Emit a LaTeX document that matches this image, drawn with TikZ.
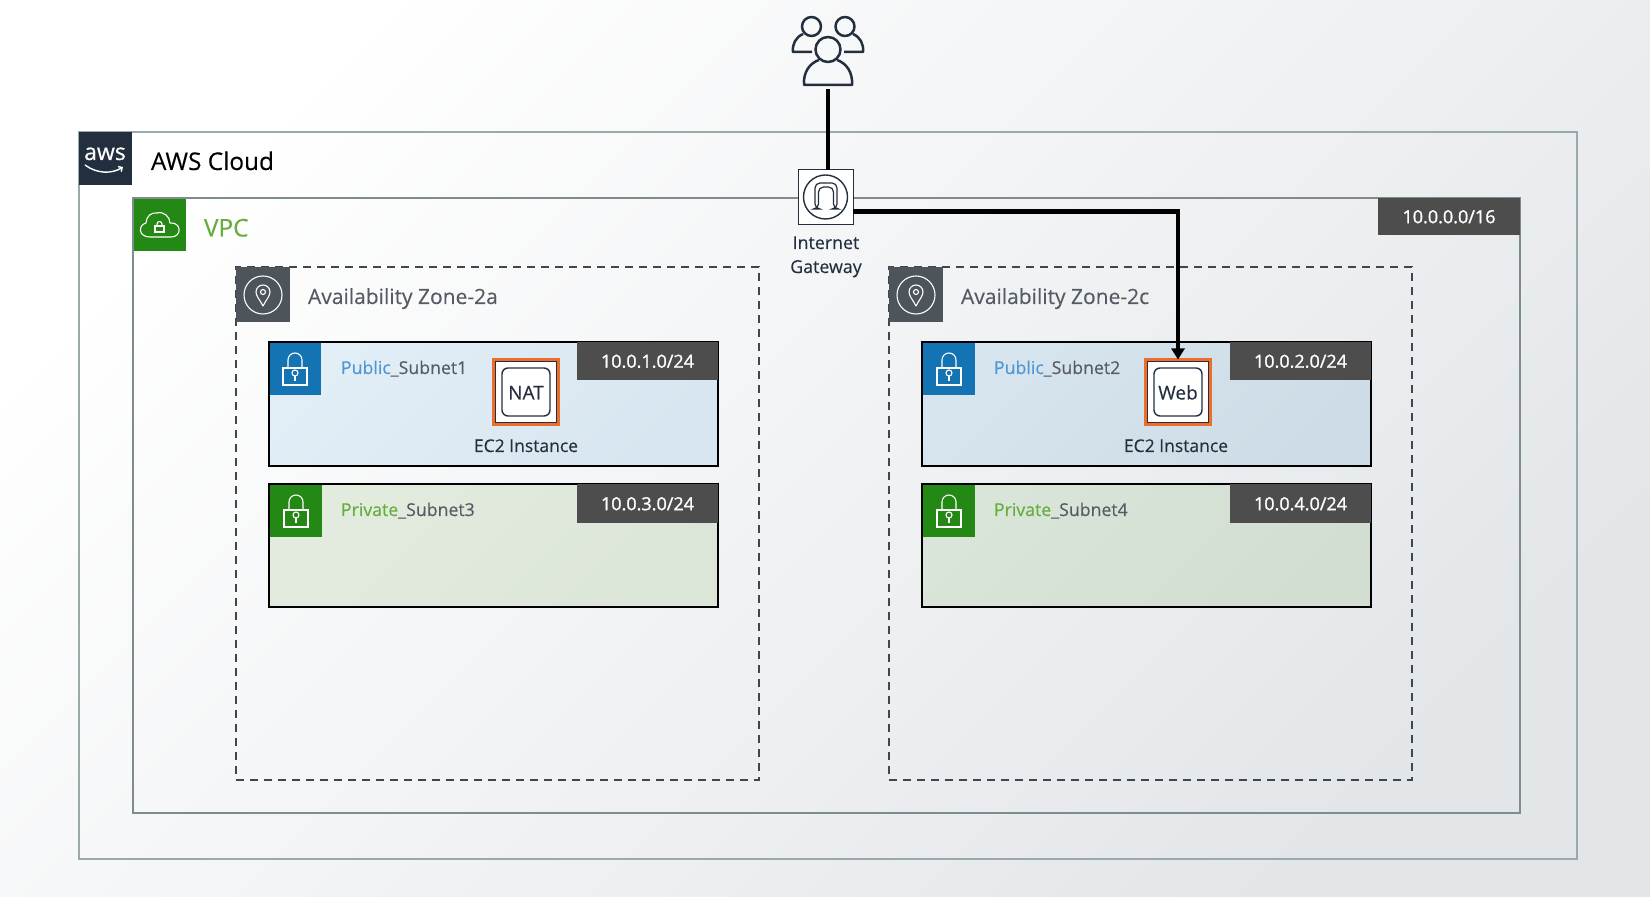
\documentclass[tikz,border=0pt]{standalone}
\usepackage{fontspec}
\setmainfont[FakeBold=0.2]{Open Sans}
\usetikzlibrary{arrows.meta}
\definecolor{navy}{HTML}{232F3E}
\definecolor{cloudline}{HTML}{9AA9A9}
\definecolor{vpcline}{HTML}{7D8C8C}
\definecolor{vpcgreen}{HTML}{248814}
\definecolor{azgrey}{HTML}{4D545C}
\definecolor{azdash}{HTML}{3F4650}
\definecolor{txtgrey}{HTML}{545B64}
\definecolor{pubblue}{HTML}{1473B3}
\definecolor{pubtxt}{HTML}{5096D6}
\definecolor{privtxt}{HTML}{65AD3D}
\definecolor{tagfill}{HTML}{4D4D4D}
\definecolor{ecorange}{HTML}{EC6E2A}
\definecolor{bgend}{HTML}{E3E6E9}
\definecolor{pubA}{HTML}{E2EEF6}
\definecolor{pubB}{HTML}{D8E6F1}
\definecolor{pubC}{HTML}{D7E5EE}
\definecolor{pubD}{HTML}{CEDCE7}
\definecolor{priA}{HTML}{E3EBDE}
\definecolor{priB}{HTML}{DCE6D8}
\definecolor{priC}{HTML}{DAE5D9}
\definecolor{priD}{HTML}{D2DED1}
\tikzset{
  x=0.5pt,y=-0.5pt,
  plain/.style={inner sep=0pt,outer sep=0pt},
  cloudbox/.style={plain,draw=cloudline,line width=1pt},
  vpcbox/.style={plain,draw=vpcline,line width=1pt},
  azbox/.style={plain,draw=azdash,line width=0.7pt,dash pattern=on 4pt off 3pt},
  subbox/.style={plain,draw=black,line width=1pt},
  tagbox/.style={plain,fill=tagfill,text=white,text height=6.7pt,text depth=0pt,font=\fontsize{9}{11}\selectfont\addfontfeatures{FakeBold=1.2}},
  iconline/.style={draw=white,line width=0.55pt},
  lbl/.style={inner sep=0pt,outer sep=0pt,anchor=base west},
  lblc/.style={inner sep=0pt,outer sep=0pt,anchor=base},
  conn/.style={draw=black,line width=2.1pt},
  navyline/.style={draw=navy,line width=0.7pt},
  sublabel/.style={lbl,text=txtgrey,font=\fontsize{8.85}{11}\selectfont},
  eclabel/.style={lblc,text=navy,font=\fontsize{8.75}{11}\selectfont},
}
% style, name, x1, y1, x2, y2, text
\newcommand{\rectnode}[7]{%
  \node[#1,anchor=north west,minimum width={(#5-#3)*0.5pt},minimum height={(#6-#4)*0.5pt}] (#2) at (#3,#4) {#7};}
\newcommand{\lockmark}[2]{%
  \begin{scope}[shift={(#1,#2)}]
    \draw[iconline] (-12,-9) rectangle (12,8);
    \draw[iconline] (-7,-9) -- (-7,-17) arc[start angle=180,end angle=360,radius=7] -- (7,-9);
    \draw[iconline] (0,-4) circle[radius=3];
    \draw[iconline] (0,-1) -- (0,4);
  \end{scope}}
\newcommand{\pinmark}[2]{%
  \begin{scope}[shift={(#1,#2)}]
    \draw[iconline] (0,0) circle[radius=19];
    \draw[iconline,line join=round] (0,11) .. controls (-3,5) and (-7,1) .. (-7,-3)
      arc[start angle=180,end angle=360,radius=7] .. controls (7,1) and (3,5) .. (0,11) -- cycle;
    \draw[iconline] (0,-3) circle[radius=2.5];
  \end{scope}}
\newcommand{\ecbox}[4]{%
  % name, x1, y1, text
  \begin{scope}[shift={(#2,#3)}]
    \node[plain,anchor=north west,fill=white,draw=ecorange,line width=1.5pt,minimum width=32.5pt,minimum height=32.5pt] (#1) at (1.5,1.5) {};
    \draw[navy,line width=0.5pt] (3.5,3.5) rectangle (64.5,64.5);
    \draw[navyline,rounded corners=3pt] (10,10) rectangle (58,58);
    \node[lblc,text=navy,font=\fontsize{9.5}{11}\selectfont] (#1txt) at (34,41.5) {#4};
  \end{scope}}
\begin{document}
\begin{tikzpicture}
\useasboundingbox (0,0) rectangle (1650,897);
\rectnode{plain,top color=white,bottom color=bgend,shading angle=45}{bg}{0}{0}{1650}{897}{}
% cloud
\rectnode{cloudbox}{cloud}{79}{132}{1577}{859}{}
\rectnode{plain,fill=navy}{awsicon}{79}{132}{132}{185}{}
\node[lblc,text=white,font=\fontsize{11.5}{12}\selectfont\addfontfeatures{FakeBold=0.5}] (awstxt) at (105,160) {aws};
\draw[white,line width=0.7pt,-{Straight Barb[length=1.5pt,width=3pt]}] (85,165) .. controls (97,174) and (112,174) .. (123,167);
\node[lbl,text=black,font=\fontsize{12.2}{14}\selectfont] (cloudtxt) at (151,170) {AWS Cloud};
% vpc
\rectnode{vpcbox}{vpc}{133}{198}{1520}{813}{}
\rectnode{plain,fill=vpcgreen}{vpcicon}{134}{199}{186}{251}{}
\draw[iconline,line join=round] (150,237) .. controls (138,237) and (138,225) .. (146,223)
  .. controls (146,216) and (152,212) .. (157,213)
  .. controls (164,211) and (170,217) .. (170,223)
  .. controls (182,222) and (182,237) .. (171,237) -- cycle;
\draw[iconline] (155,226) rectangle (164,232);
\draw[iconline] (157,226) -- (157,224) arc[start angle=180,end angle=360,radius=2.5] -- (162,226);
\node[lbl,text=privtxt,font=\fontsize{12.2}{14}\selectfont] (vpctxt) at (204,236.5) {VPC};
\rectnode{tagbox}{vpctag}{1378}{198}{1520}{235}{10.0.0.0/16}
% az a
\rectnode{azbox}{aza}{236}{267}{759}{780}{}
\rectnode{plain,fill=azgrey}{azaicon}{236}{267}{290}{322}{}
\pinmark{263}{295}
\node[lbl,text=txtgrey,font=\fontsize{10.5}{12}\selectfont] (azatxt) at (308,304) {Availability Zone-2a};
% az c
\rectnode{azbox}{azc}{889}{267}{1412}{780}{}
\rectnode{plain,fill=azgrey}{azcicon}{889}{267}{943}{322}{}
\pinmark{916}{295}
\node[lbl,text=txtgrey,font=\fontsize{10.5}{12}\selectfont] (azctxt) at (961,304) {Availability Zone-2c};
% subnet 1
\rectnode{subbox,top color=pubA,bottom color=pubB,shading angle=45}{sub1}{269}{342}{718}{466}{}
\rectnode{plain,fill=pubblue}{sub1icon}{270}{343}{321}{395}{}
\lockmark{295}{377}
\node[sublabel] (sub1txt) at (341,374) {\textcolor{pubtxt}{Public}\_Subnet1};
\rectnode{tagbox}{sub1tag}{577}{342}{718}{380}{10.0.1.0/24}
\ecbox{nat}{492}{358}{NAT}
\node[eclabel] (nattxt2) at (526,452) {EC2 Instance};
% subnet 3
\rectnode{subbox,top color=priA,bottom color=priB,shading angle=45}{sub3}{269}{484}{718}{607}{}
\rectnode{plain,fill=vpcgreen}{sub3icon}{270}{485}{322}{537}{}
\lockmark{296}{519}
\node[sublabel] (sub3txt) at (341,516) {\textcolor{privtxt}{Private}\_Subnet3};
\rectnode{tagbox}{sub3tag}{577}{484}{718}{523}{10.0.3.0/24}
% subnet 2
\rectnode{subbox,top color=pubC,bottom color=pubD,shading angle=45}{sub2}{922}{342}{1371}{466}{}
\rectnode{plain,fill=pubblue}{sub2icon}{923}{343}{975}{395}{}
\lockmark{949}{377}
\node[sublabel] (sub2txt) at (994,374) {\textcolor{pubtxt}{Public}\_Subnet2};
\rectnode{tagbox}{sub2tag}{1230}{342}{1371}{380}{10.0.2.0/24}
\ecbox{web}{1144}{358}{Web}
\node[eclabel] (webtxt2) at (1176,452) {EC2 Instance};
% subnet 4
\rectnode{subbox,top color=priC,bottom color=priD,shading angle=45}{sub4}{922}{484}{1371}{607}{}
\rectnode{plain,fill=vpcgreen}{sub4icon}{923}{485}{975}{537}{}
\lockmark{949}{519}
\node[sublabel] (sub4txt) at (994,516) {\textcolor{privtxt}{Private}\_Subnet4};
\rectnode{tagbox}{sub4tag}{1230}{484}{1371}{523}{10.0.4.0/24}
% internet gateway
\rectnode{plain,fill=white,draw=navy,line width=0.5pt}{igw}{798}{170}{853}{225}{}
\draw[navyline] (825.5,197) circle[radius=22];
\draw[navy,line width=0.6pt,rounded corners=2.5pt] (815,209) -- (815,183) -- (837,183) -- (837,209) -- (833.5,209) -- (833.5,187) -- (818.5,187) -- (818.5,209) -- cycle;
\node[lblc,text=navy,font=\fontsize{8.9}{11}\selectfont] (igwt1) at (826,249) {Internet};
\node[lblc,text=navy,font=\fontsize{8.9}{11}\selectfont] (igwt2) at (826,273) {Gateway};
% users
\coordinate (users) at (828,89);
\begin{scope}[line join=round]
  \draw[navy,line width=1.25pt] (811.5,26.5) circle[radius=9.5];
  \draw[navy,line width=1.25pt] (845,26.5) circle[radius=9.5];
  \draw[navy,line width=1.25pt] (828,49.5) circle[radius=12.5];
  \draw[navy,line width=1.25pt] (812,52) -- (793,52) .. controls (792,44) and (796,37) .. (803,34);
  \draw[navy,line width=1.25pt] (844,52) -- (863,52) .. controls (864,44) and (860,37) .. (853,34);
  \draw[navy,line width=1.25pt] (819,60) .. controls (810,63) and (803,72) .. (804,85) -- (852,85) .. controls (853,72) and (846,63) .. (837,60);
\end{scope}
% connectors
\draw[conn] (users) -- (users |- igw.north);
\draw[conn,-{Stealth[length=11pt,width=13pt,inset=0pt,scale=0.5]}] ([yshift=-7pt]igw.east) -| (web.north);
\end{tikzpicture}
\end{document}
